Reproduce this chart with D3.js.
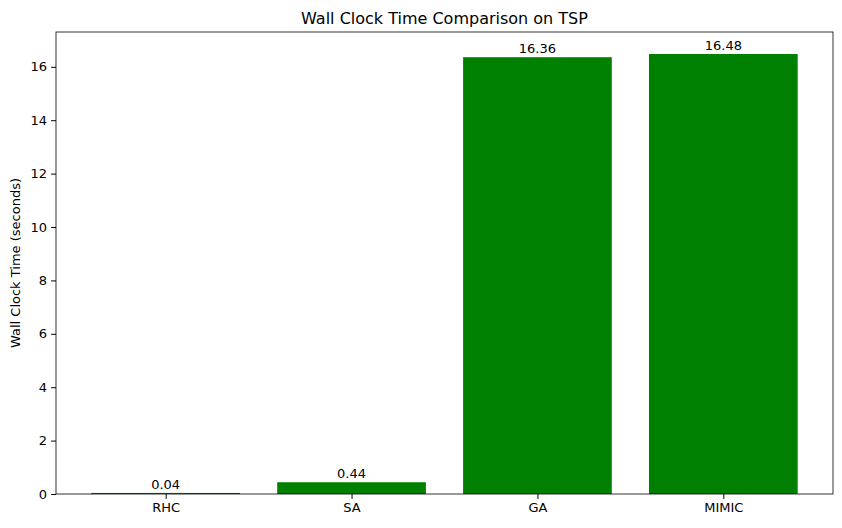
<!DOCTYPE html>
<html><head><meta charset="utf-8">
<script src="https://cdn.jsdelivr.net/npm/d3@7"></script>
<style>body{margin:0;background:#fff}text{font-family:"DejaVu Sans",sans-serif}</style>
</head><body>
<svg id="c" width="842" height="528"></svg>
<script>
const categories=["RHC","SA","GA","MIMIC"];
const values=[0.04,0.44,16.36,16.48];
const yTicks=[0,2,4,6,8,10,12,14,16];
const L=56,R=833,T=32,B=494;
const svg=d3.select("#c");
const x=d3.scaleLinear().domain([-0.59,3.59]).range([L,R]);
const y=d3.scaleLinear().domain([0,16.48*1.05]).range([B,T]);
const bw=x(0.8)-x(0);
svg.selectAll("rect.bar").data(values).join("rect").attr("class","bar")
 .attr("x",(d,i)=>x(i-0.4)).attr("width",bw)
 .attr("y",d=>y(d)).attr("height",d=>B-y(d)).attr("fill","#008000");
svg.selectAll("text.lab").data(values).join("text").attr("class","lab")
 .attr("x",(d,i)=>x(i)).attr("y",d=>y(d)-4).attr("text-anchor","middle")
 .attr("font-size","13px").text(d=>d.toFixed(2));
const ya=svg.append("g").attr("transform",`translate(${L},0)`)
 .call(d3.axisLeft(y).tickValues(yTicks).tickSize(4.9).tickPadding(4));
const xa=svg.append("g").attr("transform",`translate(0,${B})`)
 .call(d3.axisBottom(x).tickValues([0,1,2,3]).tickFormat(i=>categories[i]).tickSize(4.9).tickPadding(4));
[ya,xa].forEach(a=>{a.selectAll("text").attr("font-size","13px").attr("fill","#000");a.select(".domain").remove();});
svg.append("rect").attr("x",L).attr("y",T).attr("width",R-L).attr("height",B-T)
 .attr("fill","none").attr("stroke","#000").attr("stroke-width",0.8);
svg.append("text").attr("x",(L+R)/2).attr("y",T-8).attr("text-anchor","middle")
 .attr("font-size","16px").text("Wall Clock Time Comparison on TSP");
svg.append("text").attr("transform",`translate(20,${(T+B)/2}) rotate(-90)`)
 .attr("text-anchor","middle").attr("font-size","13px").text("Wall Clock Time (seconds)");
</script></body></html>
